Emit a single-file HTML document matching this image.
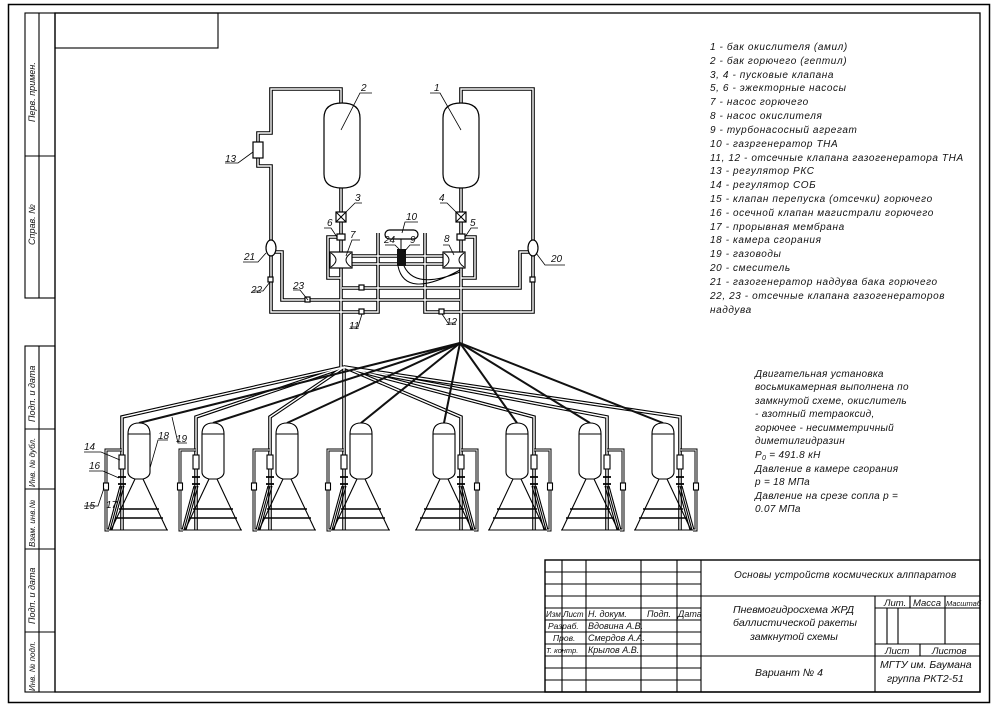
<!DOCTYPE html>
<html><head><meta charset="utf-8"><style>
html,body{margin:0;padding:0;background:#fff}
svg{display:block}
text{font-family:"Liberation Sans","DejaVu Sans",sans-serif;font-style:italic;fill:#111}
</style></head><body>
<svg width="998" height="707" viewBox="0 0 998 707" xmlns="http://www.w3.org/2000/svg" font-size="10">
<rect x="0" y="0" width="998" height="707" fill="#fff"/>
<rect x="8.5" y="4.5" width="981" height="698" fill="none" stroke="#000" stroke-width="1.5"/>
<rect x="55" y="13" width="925" height="679" fill="none" stroke="#000" stroke-width="1.3"/>
<rect x="55" y="13" width="163" height="35" fill="none" stroke="#000" stroke-width="1.1"/>
<g fill="none" stroke="#000" stroke-width="1.1">
<rect x="25" y="13" width="30" height="285"/>
<line x1="39" y1="13" x2="39" y2="298"/>
<line x1="25" y1="156" x2="55" y2="156"/>
<rect x="25" y="346" width="30" height="346"/>
<line x1="39" y1="346" x2="39" y2="692"/>
<line x1="25" y1="429" x2="55" y2="429"/>
<line x1="25" y1="489" x2="55" y2="489"/>
<line x1="25" y1="549" x2="55" y2="549"/>
<line x1="25" y1="632" x2="55" y2="632"/>
</g>
<g font-size="9">
<text transform="translate(35,122) rotate(-90)">Перв. примен.</text>
<text transform="translate(35,245) rotate(-90)">Справ. №</text>
<text transform="translate(35,422) rotate(-90)">Подп. и дата</text>
<text transform="translate(35,487) rotate(-90)" font-size="8">Инв. № дубл.</text>
<text transform="translate(35,547) rotate(-90)" font-size="8">Взам. инв.№</text>
<text transform="translate(35,624) rotate(-90)">Подп. и дата</text>
<text transform="translate(35,691) rotate(-90)" font-size="8">Инв. № подл.</text>
</g>

<g fill="none" stroke="#000" stroke-width="3.6" stroke-linejoin="miter">
<g id="p">
<path d="M341,103 V89 H271 V133 H258 V142 M258,158 V166 H271 V312 H378 V233"/>
<path d="M271,252 H282 V300 H460"/>
<path d="M342,288 H520 V252 H533"/>
<path d="M461,103 V89 H533 V312 H425 V233"/>
<path d="M341,188 V367"/>
<path d="M461,188 V343"/>
<path d="M341,237 H328 V278 H341"/>
<path d="M461,237 H475 V278 H461"/>
<path d="M352,256 H443 M352,264 H443"/>
<path d="M122,530 V417 L344,367"/>
<path d="M196,530 V417 L344,367"/>
<path d="M270,530 V417 L344,367"/>
<path d="M344,530 V367"/>
<path d="M461,530 V417 L344,367"/>
<path d="M534,530 V417 L344,367"/>
<path d="M607,530 V417 L344,367"/>
<path d="M680,530 V417 L344,367"/>
</g>
</g>
<use href="#p" fill="none" stroke="#fff" stroke-width="1.4"/>

<g stroke="#111" stroke-width="2" fill="none">
<line x1="460" y1="343" x2="139" y2="423"/>
<line x1="460" y1="343" x2="213" y2="423"/>
<line x1="460" y1="343" x2="287" y2="423"/>
<line x1="460" y1="343" x2="361" y2="423"/>
<line x1="460" y1="343" x2="444" y2="423"/>
<line x1="460" y1="343" x2="517" y2="423"/>
<line x1="460" y1="343" x2="590" y2="423"/>
<line x1="460" y1="343" x2="663" y2="423"/>
</g>

<g fill="#fff" stroke="#000" stroke-width="1.2">
<path d="M324,118 Q324,103 342,103 Q360,103 360,118 V174 Q360,188 342,188 Q324,188 324,174 Z"/>
<path d="M443,118 Q443,103 461,103 Q479,103 479,118 V174 Q479,188 461,188 Q443,188 443,174 Z"/>
<rect x="253" y="142" width="10" height="16"/>
<ellipse cx="271" cy="248" rx="5" ry="8"/>
<ellipse cx="533" cy="248" rx="5" ry="8"/>
<rect x="336" y="212" width="10" height="10"/>
<rect x="456" y="212" width="10" height="10"/>
<rect x="337" y="234" width="8" height="6"/>
<rect x="457" y="234" width="8" height="6"/>
<rect x="330" y="252" width="22" height="16"/>
<rect x="443" y="252" width="22" height="16"/>
<rect x="385" y="230" width="33" height="9" rx="4.5"/>
<rect x="268" y="277" width="5" height="5"/>
<rect x="530" y="277" width="5" height="5"/>
<rect x="305" y="297" width="5" height="5"/>
<rect x="359" y="285" width="5" height="5"/>
<rect x="359" y="309" width="5" height="5"/>
<rect x="439" y="309" width="5" height="5"/>
</g>
<g stroke="#000" stroke-width="1" fill="none">
<path d="M336,212 L346,222 M346,212 L336,222 M456,212 L466,222 M466,212 L456,222"/>
<path d="M331,253 Q341,260 331,267 M351,253 Q341,260 351,267 M444,253 Q454,260 444,267 M464,253 Q454,260 464,267"/>
<path d="M401,239 V250"/>
<path d="M398,266 Q405,300 460,270 M404,266 Q415,290 460,272"/>
</g>
<rect x="397" y="249" width="9" height="17" fill="#111"/>

<defs>
<g id="eng" fill="none" stroke="#000" stroke-width="1.1">
<path d="M-11,472 V434 Q-11,423 0,423 Q11,423 11,434 V472 Q11,477 4,479 H-4 Q-11,477 -11,472 Z" fill="#fff"/>
<line x1="-11" y1="434" x2="11" y2="434"/>
<path d="M-4,479 L-28,530 M4,479 L28,530 M-31,530 H29"/>
<path d="M-20,509 H20 M-24,518 H24" stroke-width="1.6"/>
<rect x="-20" y="455" width="6" height="14" fill="#fff"/>
<path d="M-21,477 H-13 M-21,484 H-13" stroke-width="1.8"/>
<path d="M-17,486 L-29,530 M-15,486 L-27,530 M-19,486 L-31,530"/>
<path d="M-17,450 H-33 V530 H-30" stroke-width="3"/>
<path d="M-17,450 H-33 V530 H-30" stroke="#fff" stroke-width="1"/>
<rect x="-35.5" y="483" width="5" height="7" fill="#fff"/>
</g>
</defs>
<use href="#eng" transform="translate(139,0)"/>
<use href="#eng" transform="translate(213,0)"/>
<use href="#eng" transform="translate(287,0)"/>
<use href="#eng" transform="translate(361,0)"/>
<use href="#eng" transform="translate(444,0) scale(-1,1)"/>
<use href="#eng" transform="translate(517,0) scale(-1,1)"/>
<use href="#eng" transform="translate(590,0) scale(-1,1)"/>
<use href="#eng" transform="translate(663,0) scale(-1,1)"/>

<g stroke="#000" stroke-width="0.8" fill="none">
<path d="M341,130 L360,93 H372"/>
<path d="M461,130 L440,93 H430"/>
<path d="M346,212 L355,203 H362"/>
<path d="M456,212 L447,203 H440"/>
<path d="M337,237 L331,228 H324"/>
<path d="M465,237 L471,228 H478"/>
<path d="M346,256 L352,240 H360"/>
<path d="M454,255 L449,245 H443"/>
<path d="M402,233 L405,222 H418"/>
<path d="M400,250 L395,245 H385"/>
<path d="M404,252 L410,245 H420"/>
<path d="M253,152 L238,163 H225"/>
<path d="M266,253 L258,262 H243"/>
<path d="M536,253 L545,265 H565"/>
<path d="M270,282 L263,291 H253"/>
<path d="M308,300 L300,290 H293"/>
<path d="M362,314 L358,327 H350"/>
<path d="M442,314 L448,323 H456"/>
<path d="M120,460 L101,452 H84"/>
<path d="M119,478 L103,471 H89"/>
<path d="M104,488 L98,506 H84"/>
<path d="M150,468 L158,440 H168"/>
<path d="M172,417 L178,443 H187"/>
</g>
<g>
<text x="361" y="91">2</text>
<text x="434" y="91">1</text>
<text x="355" y="201">3</text>
<text x="439" y="201">4</text>
<text x="327" y="226">6</text>
<text x="470" y="226">5</text>
<text x="350" y="238">7</text>
<text x="444" y="242">8</text>
<text x="406" y="220">10</text>
<text x="384" y="243">24</text>
<text x="410" y="243">9</text>
<text x="225" y="162">13</text>
<text x="244" y="260">21</text>
<text x="551" y="262">20</text>
<text x="251" y="293">22</text>
<text x="293" y="289">23</text>
<text x="349" y="329">11</text>
<text x="446" y="325">12</text>
<text x="84" y="450">14</text>
<text x="89" y="469">16</text>
<text x="84" y="509">15</text>
<text x="106" y="508">17</text>
<text x="158" y="439">18</text>
<text x="176" y="442">19</text>
</g>

<g font-size="10" letter-spacing="0.6">
<text x="710" y="50">1 - бак окислителя (амил)</text>
<text x="710" y="64">2 - бак горючего (гептил)</text>
<text x="710" y="78">3, 4 - пусковые клапана</text>
<text x="710" y="91">5, 6 - эжекторные насосы</text>
<text x="710" y="105">7 - насос горючего</text>
<text x="710" y="119">8 - насос окислителя</text>
<text x="710" y="133">9 - турбонасосный агрегат</text>
<text x="710" y="147">10 - газргенератор ТНА</text>
<text x="710" y="161">11, 12 - отсечные клапана газогенератора ТНА</text>
<text x="710" y="174">13 - регулятор РКС</text>
<text x="710" y="188">14 - регулятор СОБ</text>
<text x="710" y="202">15 - клапан перепуска (отсечки) горючего</text>
<text x="710" y="216">16 - осечной клапан магистрали горючего</text>
<text x="710" y="230">17 - прорывная мембрана</text>
<text x="710" y="243">18 - камера сгорания</text>
<text x="710" y="257">19 - газоводы</text>
<text x="710" y="271">20 - смеситель</text>
<text x="710" y="285">21 - газогенератор наддува бака горючего</text>
<text x="710" y="299">22, 23 - отсечные клапана газогенераторов</text>
<text x="710" y="313">наддува</text>
</g>
<g font-size="10" letter-spacing="0.3">
<text x="755" y="377">Двигательная установка</text>
<text x="755" y="390">восьмикамерная выполнена по</text>
<text x="755" y="404">замкнутой схеме, окислитель</text>
<text x="755" y="417">- азотный тетраоксид,</text>
<text x="755" y="431">горючее - несимметричный</text>
<text x="755" y="444">диметилгидразин</text>
<text x="755" y="458">P<tspan font-size="7" dy="2">0</tspan><tspan dy="-2"> = 491.8 кН</tspan></text>
<text x="755" y="472">Давление в камере сгорания</text>
<text x="755" y="485">р = 18 МПа</text>
<text x="755" y="499">Давление на срезе сопла р =</text>
<text x="755" y="512">0.07 МПа</text>
</g>

<g fill="none" stroke="#000" stroke-width="1.1">
<rect x="545" y="560" width="435" height="132" stroke-width="1.4"/>
<path d="M545,572 H701 M545,584 H701 M545,596 H980 M545,608 H701 M545,620 H701 M545,632 H701 M545,644 H701 M545,656 H980 M545,668 H701 M545,680 H701"/>
<path d="M562,560 V692 M586,560 V692 M641,560 V692 M677,560 V692 M701,560 V692 M875,596 V692"/>
<path d="M875,608 H980 M875,644 H980 M910,596 V608 M945,596 V644 M887,608 V644 M898,608 V644 M920,644 V656"/>
</g>
<g font-size="9.5">
<text x="734" y="578" font-size="10" letter-spacing="0.2">Основы устройств космических алппаратов</text>
<text x="733" y="613" font-size="10.5">Пневмогидросхема ЖРД</text>
<text x="733" y="626" font-size="10.5">баллистической ракеты</text>
<text x="750" y="640" font-size="10.5">замкнутой схемы</text>
<text x="755" y="676" font-size="10.5">Вариант № 4</text>
<text x="884" y="606">Лит.</text>
<text x="913" y="606">Масса</text>
<text x="946" y="606" font-size="7.5">Масштаб</text>
<text x="885" y="654">Лист</text>
<text x="932" y="654">Листов</text>
<text x="880" y="668" font-size="10.5">МГТУ им. Баумана</text>
<text x="887" y="682" font-size="10.5">группа РКТ2-51</text>
<text x="546" y="617" font-size="8">Изм.</text>
<text x="563" y="617" font-size="8">Лист</text>
<text x="588" y="617" font-size="9">Н. докум.</text>
<text x="647" y="617" font-size="9">Подп.</text>
<text x="678" y="617" font-size="9">Дата</text>
<text x="548" y="629" font-size="8.5">Разраб.</text>
<text x="553" y="641" font-size="8.5">Пров.</text>
<text x="546" y="653" font-size="7.5">Т. контр.</text>
<text x="588" y="629" font-size="9">Вдовина А.В.</text>
<text x="588" y="641" font-size="9">Смердов А.А.</text>
<text x="588" y="653" font-size="9">Крылов А.В.</text>
</g>
</svg>
</body></html>
